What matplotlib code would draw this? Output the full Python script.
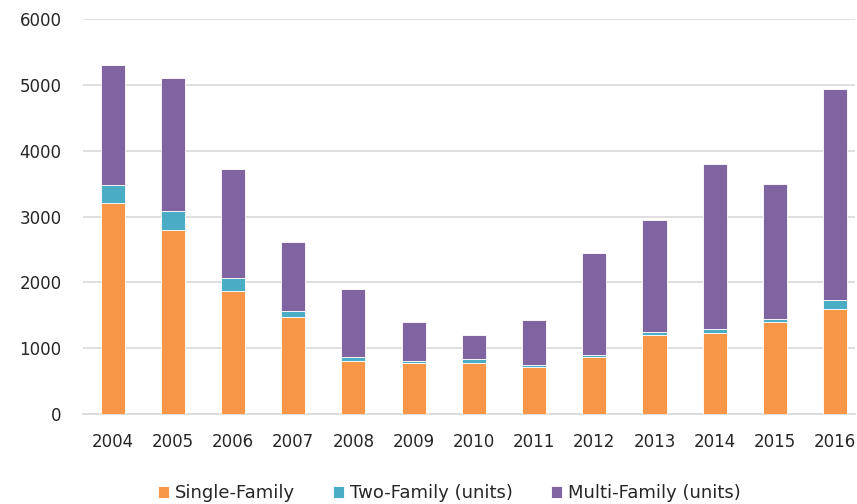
import matplotlib.pyplot as plt
import numpy as np

plt.rcParams['font.family'] = ['DejaVu Sans']

years = ['2004', '2005', '2006', '2007', '2008', '2009', '2010',
         '2011', '2012', '2013', '2014', '2015', '2016']
single_family = [3200, 2800, 1870, 1480, 800, 770, 770, 715, 860, 1195, 1225, 1395, 1590]
two_family = [285, 290, 200, 85, 60, 35, 65, 30, 30, 55, 60, 55, 140]
multi_family = [1815, 2010, 1650, 1045, 1045, 590, 360, 685, 1550, 1700, 2510, 2040, 3200]

colors = ['#F79646', '#4BACC6', '#8064A2']
labels = ['Single-Family', 'Two-Family (units)', 'Multi-Family (units)']

fig = plt.figure(figsize=(8.57, 5.04), dpi=100)
ax = fig.add_axes([82.5 / 857, 1 - 414 / 504, (855 - 82.5) / 857, (414 - 19) / 504])

x = np.arange(len(years))
w = 0.4
s = np.array(single_family)
t = np.array(two_family)
m = np.array(multi_family)
ax.bar(x, s, w, color=colors[0], edgecolor='white', linewidth=0.6, label=labels[0], zorder=3)
ax.bar(x, t, w, bottom=s, color=colors[1], edgecolor='white', linewidth=0.6, label=labels[1], zorder=3)
ax.bar(x, m, w, bottom=s + t, color=colors[2], edgecolor='white', linewidth=0.6, label=labels[2], zorder=3)

ax.set_ylim(0, 6000)
ax.set_xlim(-0.5, 12.33)
ax.set_yticks(range(0, 6001, 1000))
ax.set_xticks(x)
ax.set_xticklabels(years)
ax.grid(axis='y', color='#D9D9D9', linewidth=1.2, zorder=0)
for sp in ['top', 'right', 'left']:
    ax.spines[sp].set_visible(False)
ax.spines['bottom'].set_color('#D9D9D9')
ax.spines['bottom'].set_linewidth(1.2)
ax.tick_params(axis='both', length=0, labelsize=12, colors='#262626')
ax.tick_params(axis='y', pad=15)
ax.tick_params(axis='x', pad=14)

fig.legend(loc='center', bbox_to_anchor=(0.524, 1 - 493 / 504), ncol=3, frameon=False,
           fontsize=13, handlelength=0.65, handleheight=0.65, handletextpad=0.3,
           columnspacing=2.1, labelcolor='#262626')

fig.savefig('out.png', dpi=100)
